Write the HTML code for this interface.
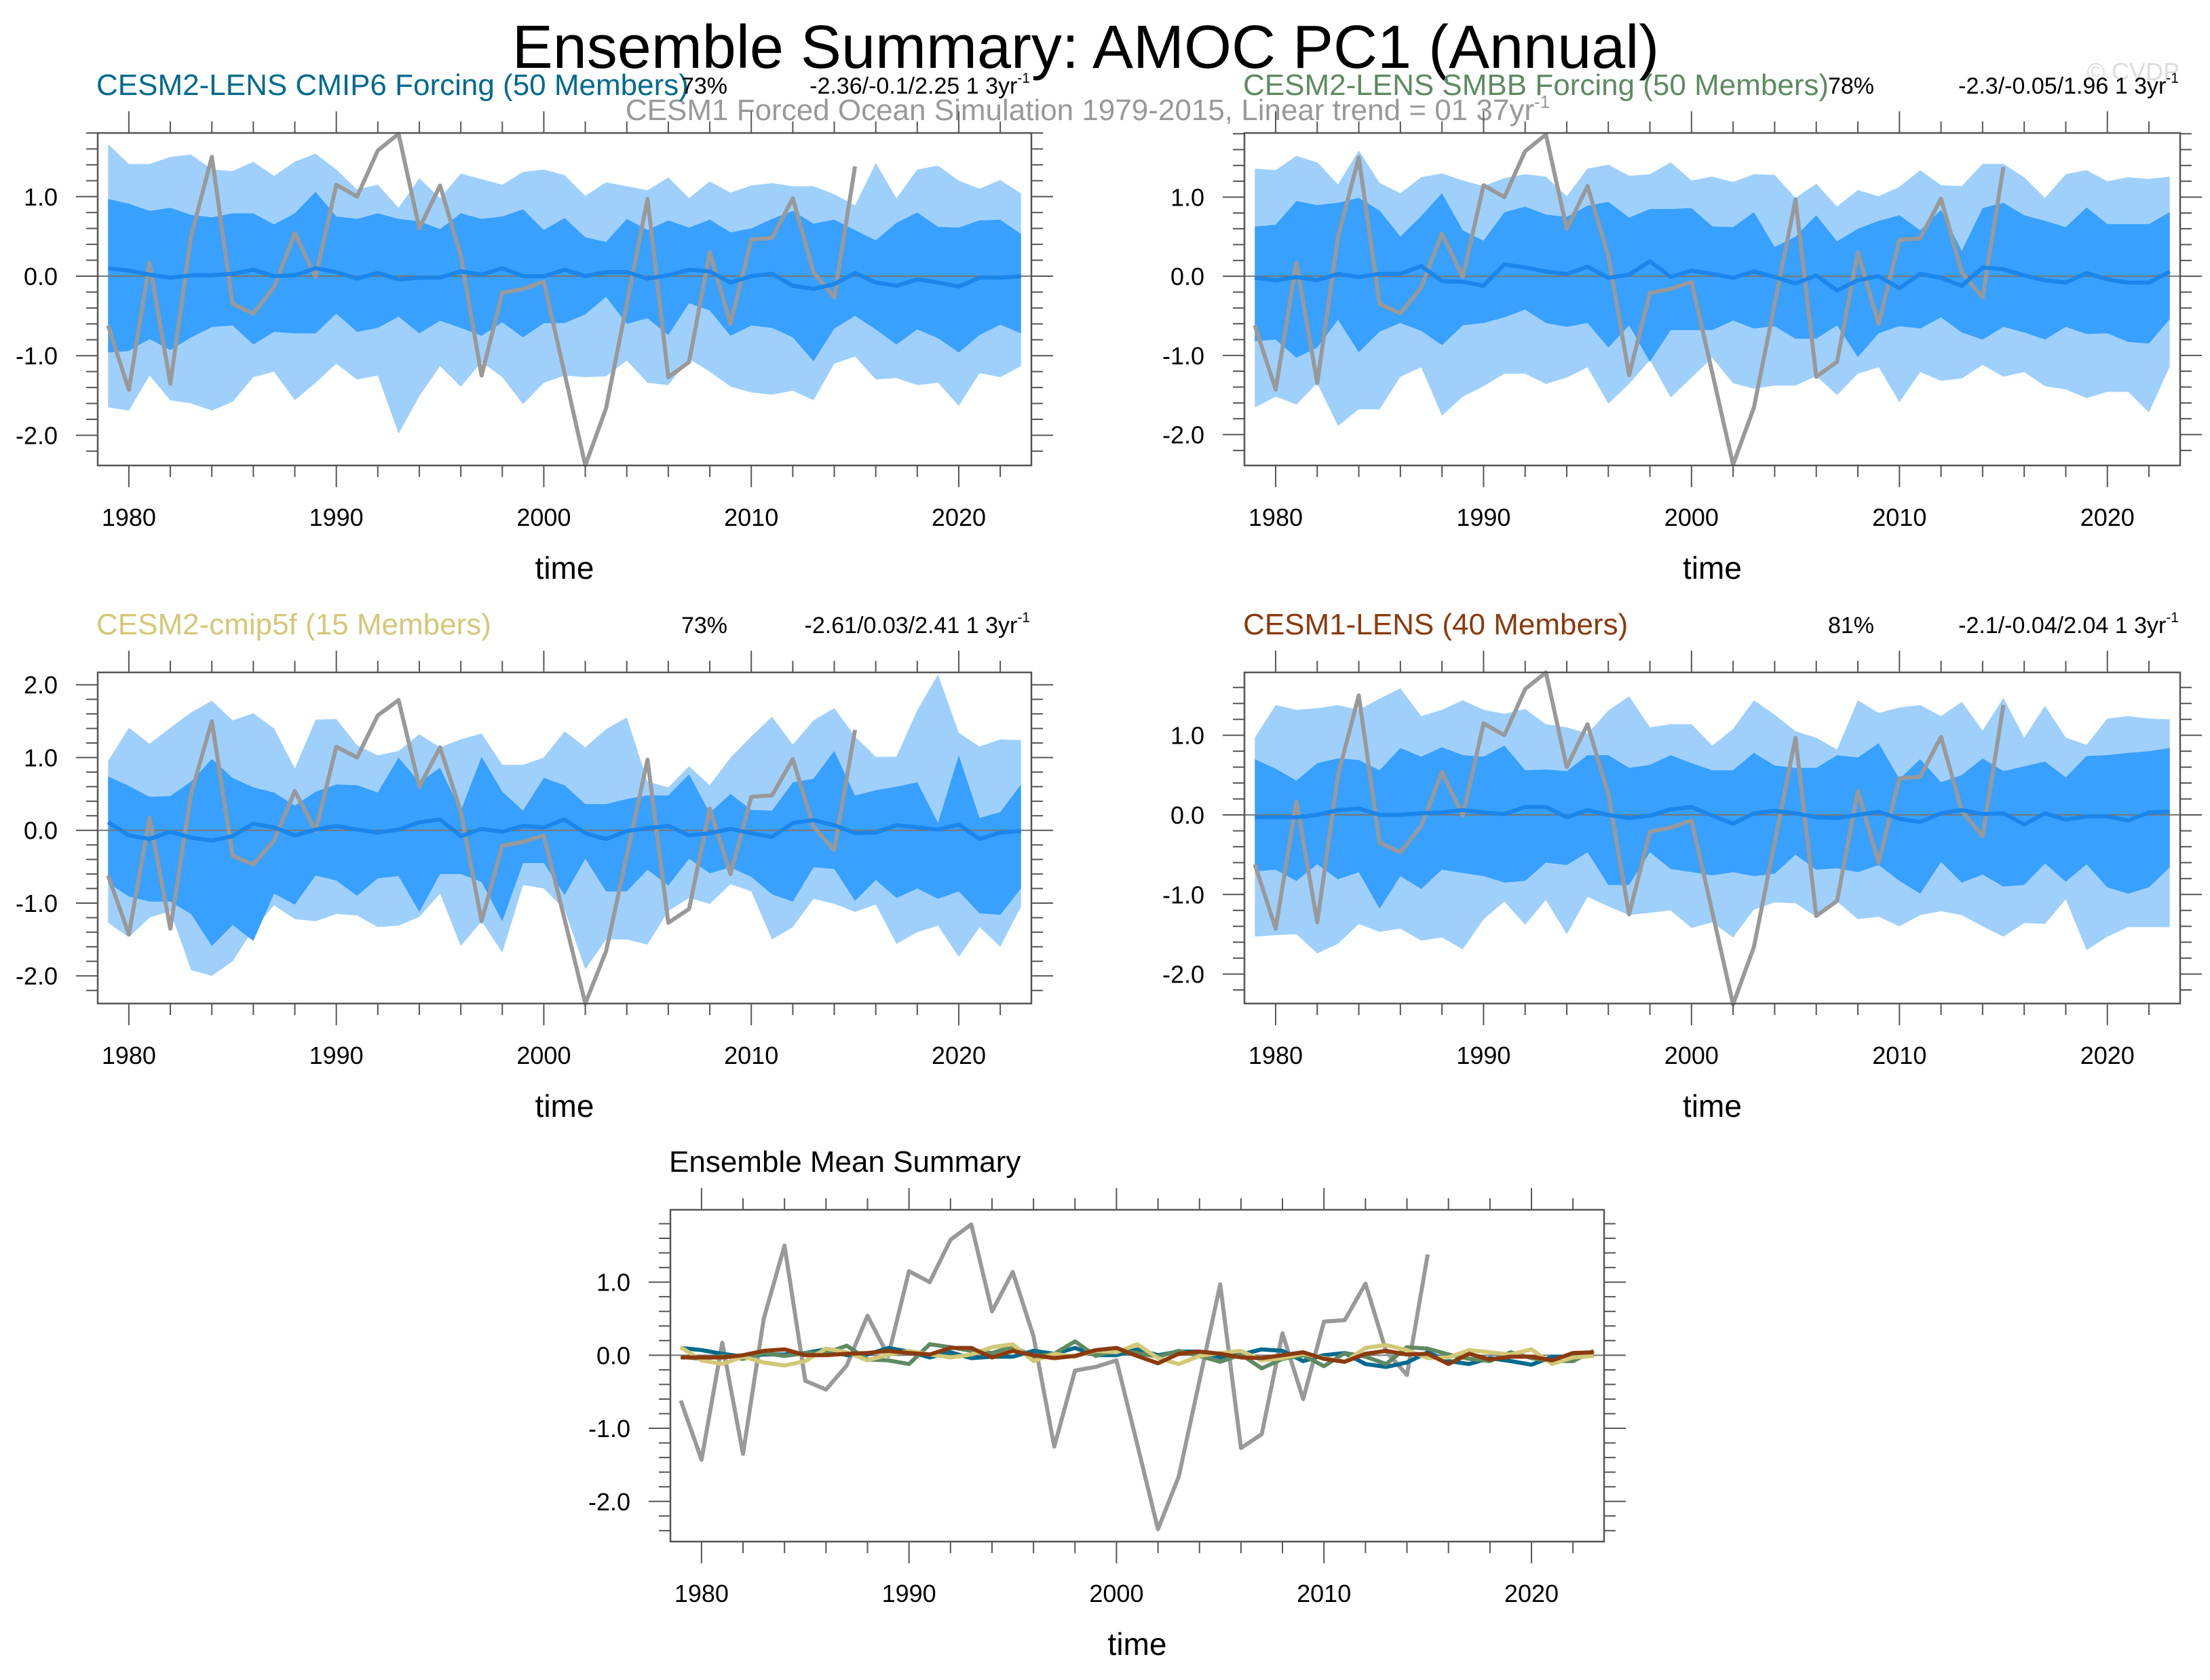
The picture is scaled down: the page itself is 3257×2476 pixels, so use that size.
<!DOCTYPE html>
<html><head><meta charset="utf-8">
<style>
html,body{margin:0;padding:0;background:#fff;}
svg{display:block;font-family:"Liberation Sans",sans-serif;}
</style></head>
<body>
<svg id="chart" width="3257" height="2476" viewBox="0 0 3257 2476" xmlns="http://www.w3.org/2000/svg">
<rect width="3257" height="2476" fill="#fff"/>
<text x="1600" y="100" font-size="90" text-anchor="middle" fill="#000">Ensemble Summary: AMOC PC1 (Annual)</text>
<text x="1603" y="177" font-size="44" text-anchor="middle" fill="#999">CESM1 Forced Ocean Simulation 1979-2015, Linear trend = 01 37yr<tspan dy="-18" font-size="26">-1</tspan></text>
<text x="3212" y="118" font-size="36" text-anchor="end" fill="#ddd">© CVDP</text>
<g id="panels"></g>
</svg>
<script>
const years = [];
for (let y = 1979; y <= 2023; y++) years.push(y);
const obsYears = [];
for (let y = 1979; y <= 2015; y++) obsYears.push(y);
const obsValues = [-0.62,-1.43,0.17,-1.35,0.5,1.5,-0.35,-0.47,-0.14,0.54,-0.01,1.15,1.0,1.58,1.79,0.6,1.14,0.26,-1.25,-0.21,-0.16,-0.07,-1.22,-2.38,-1.66,-0.35,0.97,-1.27,-1.08,0.3,-0.6,0.46,0.48,0.98,0.05,-0.27,1.38];
const xTickValues = [1980,1990,2000,2010,2020];
const xTickLabels = ["1980","1990","2000","2010","2020"];
const yTickValues = [-2,-1,0,1,2];
const yTickLabels = ["-2.0","-1.0","0.0","1.0","2.0"];

// Panel 1: CESM2-LENS CMIP6
const p1Mean = [0.1,0.07,0.02,-0.02,0.01,0.01,0.03,0.08,0.0,0.01,0.1,0.05,-0.03,0.04,-0.04,-0.02,-0.02,0.06,0.02,0.1,0.0,0.0,0.08,0.0,0.05,0.05,-0.03,0.01,0.08,0.06,-0.08,0.0,0.03,-0.12,-0.16,-0.1,0.04,-0.08,-0.12,-0.04,-0.08,-0.13,-0.02,-0.02,0.0];
const p1OuterHi = [1.66,1.41,1.41,1.5,1.53,1.34,1.32,1.44,1.26,1.44,1.54,1.34,1.09,1.15,0.86,1.23,0.98,1.29,1.22,1.15,1.31,1.34,1.27,1.01,1.18,1.13,1.08,1.24,0.98,1.19,1.05,1.14,1.17,1.13,1.13,1.03,0.89,1.42,0.98,1.34,1.39,1.2,1.1,1.21,1.04];
const p1InnerHi = [0.97,0.91,0.82,0.86,0.77,0.74,0.79,0.79,0.65,0.79,1.06,0.75,0.72,0.79,0.72,0.69,0.59,0.79,0.72,0.75,0.84,0.58,0.73,0.49,0.43,0.72,0.58,0.7,0.61,0.71,0.55,0.6,0.72,0.82,0.66,0.71,0.58,0.45,0.67,0.8,0.62,0.61,0.7,0.71,0.53];
const p1InnerLo = [-0.96,-0.94,-0.79,-0.93,-0.77,-0.64,-0.62,-0.86,-0.7,-0.72,-0.72,-0.47,-0.7,-0.65,-0.51,-0.72,-0.56,-0.65,-0.75,-0.58,-0.77,-0.59,-0.59,-0.48,-0.26,-0.6,-0.53,-0.74,-0.34,-0.43,-0.75,-0.62,-0.65,-0.77,-1.07,-0.66,-0.5,-0.67,-0.86,-0.67,-0.78,-0.96,-0.74,-0.61,-0.72];
const p1OuterLo = [-1.65,-1.69,-1.25,-1.56,-1.6,-1.69,-1.58,-1.27,-1.2,-1.56,-1.34,-1.1,-1.3,-1.25,-1.98,-1.51,-1.13,-1.39,-1.08,-1.27,-1.61,-1.34,-1.25,-1.27,-1.26,-1.06,-1.34,-1.37,-1.04,-1.2,-1.39,-1.46,-1.49,-1.44,-1.56,-1.1,-1.01,-1.3,-1.28,-1.37,-1.34,-1.63,-1.22,-1.27,-1.13];

// Panel 2: CESM2-LENS SMBB
const p2Mean = [-0.02,-0.05,-0.01,-0.05,0.03,-0.01,0.03,0.03,0.13,-0.06,-0.07,-0.12,0.15,0.11,0.06,0.03,0.12,-0.02,0.02,0.19,-0.01,0.07,0.03,-0.02,0.06,-0.01,-0.09,0.01,-0.18,-0.05,0.0,-0.15,0.03,-0.02,-0.12,0.11,0.09,0.01,-0.05,-0.08,0.04,-0.04,-0.08,-0.08,0.06];
const p2OuterHi = [1.36,1.34,1.52,1.44,1.16,1.59,1.18,1.05,1.25,1.3,1.21,1.14,1.24,1.29,1.26,1.01,1.36,1.41,1.27,1.29,1.44,1.21,1.26,1.19,1.29,1.28,0.99,1.17,0.88,1.09,1.01,1.13,1.34,1.15,1.14,1.42,1.42,1.25,0.99,1.29,1.34,1.2,1.25,1.23,1.26];
const p2InnerHi = [0.63,0.65,0.95,0.9,0.93,0.99,0.83,0.5,0.76,1.05,0.58,0.45,0.81,0.88,0.78,0.75,0.89,0.94,0.74,0.85,0.85,0.86,0.63,0.62,0.81,0.37,0.5,0.77,0.44,0.6,0.7,0.77,0.58,0.84,0.32,0.86,0.93,0.77,0.7,0.62,0.87,0.66,0.66,0.66,0.81];
const p2InnerLo = [-0.82,-0.8,-1.03,-0.9,-0.55,-0.96,-0.7,-0.59,-0.69,-0.87,-0.62,-0.59,-0.52,-0.42,-0.59,-0.64,-0.59,-0.9,-0.62,-1.08,-0.68,-0.68,-0.68,-0.56,-0.66,-0.63,-0.79,-0.79,-0.62,-1.02,-0.72,-0.63,-0.66,-0.52,-0.71,-0.8,-0.64,-0.71,-0.8,-0.64,-0.73,-0.72,-0.83,-0.85,-0.54];
const p2OuterLo = [-1.66,-1.52,-1.62,-1.35,-1.89,-1.68,-1.68,-1.27,-1.15,-1.76,-1.52,-1.39,-1.23,-1.23,-1.36,-1.28,-1.15,-1.61,-1.36,-1.06,-1.53,-1.28,-1.03,-1.35,-1.42,-1.38,-1.38,-1.26,-1.5,-1.23,-1.15,-1.59,-1.21,-1.32,-1.29,-1.12,-1.27,-1.21,-1.39,-1.43,-1.54,-1.46,-1.46,-1.72,-1.14];

// Panel 3: CESM2-cmip5f
const p3Mean = [0.11,-0.07,-0.12,-0.02,-0.1,-0.14,-0.08,0.09,0.04,-0.07,0.01,0.06,0.01,-0.03,0.01,0.11,0.15,-0.08,0.02,-0.02,0.06,0.04,0.15,-0.04,-0.12,-0.01,0.03,0.06,-0.07,-0.04,0.02,-0.04,-0.09,0.1,0.14,0.07,-0.04,-0.03,0.07,0.04,0.01,0.08,-0.12,-0.03,-0.01];
const p3OuterHi = [0.95,1.41,1.19,1.41,1.62,1.78,1.51,1.61,1.4,0.85,1.52,1.53,1.17,1.03,1.09,1.32,1.14,1.25,1.33,0.9,0.9,1.0,1.36,1.14,1.39,1.55,0.67,0.59,0.88,0.62,1.0,1.29,1.56,1.18,1.51,1.68,1.29,1.01,1.01,1.65,2.14,1.34,1.15,1.25,1.24];
const p3InnerHi = [0.74,0.61,0.46,0.47,0.67,0.98,0.72,0.59,0.52,0.34,0.53,0.63,0.62,0.52,1.0,0.66,0.86,0.27,1.01,0.53,0.27,0.72,0.62,0.36,0.36,0.43,0.48,0.48,0.77,0.24,0.5,0.28,0.27,0.66,0.71,1.09,0.48,0.55,0.6,0.66,0.1,1.03,0.17,0.25,0.63];
const p3InnerLo = [-0.72,-0.91,-0.98,-0.98,-1.15,-1.59,-1.3,-1.52,-0.87,-1.02,-0.62,-0.69,-0.9,-0.66,-0.63,-1.12,-0.6,-0.6,-0.71,-1.25,-0.45,-0.45,-0.89,-0.39,-0.84,-0.84,-0.54,-0.76,-0.39,-0.59,-0.51,-0.64,-0.88,-0.98,-0.51,-0.53,-0.97,-0.68,-0.93,-0.8,-0.94,-0.84,-1.14,-1.16,-0.8];
const p3OuterLo = [-1.27,-1.47,-1.2,-1.11,-1.92,-2.0,-1.8,-1.36,-1.03,-1.22,-1.25,-1.15,-1.17,-1.33,-1.31,-1.19,-0.87,-1.59,-1.25,-1.68,-0.75,-0.8,-1.09,-1.91,-1.5,-1.5,-1.57,-1.11,-0.93,-1.01,-0.74,-0.84,-1.5,-1.33,-0.94,-1.01,-1.12,-1.02,-1.56,-1.4,-1.31,-1.74,-1.33,-1.6,-1.05];

// Panel 4: CESM1-LENS
const p4Mean = [-0.03,-0.03,-0.03,0.0,0.06,0.08,0.0,0.0,0.02,0.03,0.06,0.03,0.01,0.1,0.1,-0.03,0.06,0.0,-0.04,-0.01,0.07,0.1,-0.01,-0.11,0.02,0.05,0.02,-0.03,-0.04,0.0,0.04,-0.05,-0.09,0.02,0.06,0.01,0.02,-0.12,0.02,-0.06,-0.02,-0.02,-0.07,0.03,0.04];
const p4OuterHi = [0.97,1.38,1.32,1.34,1.38,1.32,1.46,1.59,1.24,1.32,1.44,1.32,1.27,1.33,1.14,1.1,1.02,1.31,1.49,1.1,1.14,1.14,0.87,1.08,1.44,1.26,1.05,0.97,0.82,1.44,1.28,1.35,1.38,1.24,1.42,1.06,1.47,0.97,1.37,0.97,0.88,1.21,1.24,1.21,1.2];
const p4InnerHi = [0.7,0.58,0.43,0.65,0.71,0.69,0.56,0.84,0.73,0.85,0.75,0.73,0.87,0.56,0.57,0.55,0.75,0.75,0.59,0.63,0.75,0.65,0.56,0.56,0.78,0.62,0.59,0.59,0.75,0.72,0.9,0.45,0.7,0.41,0.5,0.71,0.55,0.61,0.67,0.47,0.74,0.75,0.78,0.8,0.84];
const p4InnerLo = [-0.71,-0.69,-0.83,-0.62,-0.81,-0.72,-1.18,-0.77,-0.93,-0.69,-0.73,-0.77,-0.85,-0.83,-0.6,-0.63,-0.47,-0.88,-0.88,-0.47,-0.68,-0.72,-0.76,-0.72,-0.77,-0.74,-0.5,-0.69,-0.67,-0.72,-0.63,-0.83,-0.99,-0.59,-0.85,-0.75,-0.9,-0.88,-0.61,-0.84,-0.62,-0.91,-0.99,-0.91,-0.66];
const p4OuterLo = [-1.53,-1.51,-1.5,-1.74,-1.62,-1.37,-1.47,-1.43,-1.58,-1.54,-1.69,-1.31,-1.09,-1.38,-1.07,-1.5,-1.03,-1.15,-1.26,-1.23,-1.2,-1.42,-1.35,-1.54,-1.19,-1.1,-1.11,-1.28,-1.09,-1.31,-1.28,-1.4,-1.26,-1.21,-1.26,-1.4,-1.53,-1.36,-1.37,-1.06,-1.7,-1.53,-1.41,-1.41,-1.41];

const NS = "http://www.w3.org/2000/svg";
const root = document.getElementById("panels");
function mk(tag, attrs, parent) {
  const e = document.createElementNS(NS, tag);
  for (const k in attrs) e.setAttribute(k, attrs[k]);
  (parent || root).appendChild(e);
  return e;
}

function drawAxes(g, box, xs, ys, yMin, yMax, prefix) {
  const tick = "#555";
  for (let yr = 1980; yr <= 2022; yr += 2) {
    const major = yr % 10 === 0;
    const L = major ? 32 : 17;
    const x = xs(yr);
    const t1 = mk("line", {x1:x, x2:x, y1:box.y1, y2:box.y1+L, stroke:tick, "stroke-width":2}, g);
    
    
    const t2 = mk("line", {x1:x, x2:x, y1:box.y0, y2:box.y0-L, stroke:tick, "stroke-width":2}, g);
    
    
  }
  xTickValues.forEach((v, i) => {
    const t = mk("text", {x:xs(v), y:box.y1+89, "font-size":36, "text-anchor":"middle", fill:"#000"}, g);
    
    
    t.textContent = xTickLabels[i];
  });
  const start = Math.ceil(yMin * 5), end = Math.floor(yMax * 5);
  for (let k = start; k <= end; k++) {
    const v = k / 5;
    const major = k % 5 === 0;
    const L = major ? 32 : 17;
    const y = ys(v);
    const t1 = mk("line", {x1:box.x0-L, x2:box.x0, y1:y, y2:y, stroke:tick, "stroke-width":2}, g);
    
    
    const t2 = mk("line", {x1:box.x1, x2:box.x1+L, y1:y, y2:y, stroke:tick, "stroke-width":2}, g);
    
    
  }
  yTickValues.forEach((v, i) => {
    if (v < yMin || v > yMax) return;
    const t = mk("text", {x:box.x0-59, y:ys(v)+13, "font-size":36, "text-anchor":"end", fill:"#000"}, g);
    
    
    t.textContent = yTickLabels[i];
  });
  const xt = mk("text", {x:(box.x0+box.x1)/2, y:box.y1+167, "font-size":46, "text-anchor":"middle", fill:"#000"}, g);
  
  
  xt.textContent = "time";
}

function lineOf(xsArr, vals, xs, ys) {
  return vals.map((v, i) => (i ? "L" : "M") + xs(xsArr[i]).toFixed(1) + "," + ys(v).toFixed(1)).join("");
}
function bandOf(hi, lo, xs, ys) {
  let d = hi.map((v, i) => (i ? "L" : "M") + xs(years[i]).toFixed(1) + "," + ys(v).toFixed(1)).join("");
  for (let i = lo.length - 1; i >= 0; i--) d += "L" + xs(years[i]).toFixed(1) + "," + ys(lo[i]).toFixed(1);
  return d + "Z";
}

function panel(name, box, yMin, yMax, title, titleColor, pct, pctX, stats, data) {
  const g = mk("g", {});
  
  
  const xs = v => box.x0 + (v - 1978.5) / 45 * (box.x1 - box.x0);
  const ys = v => box.y1 - (v - yMin) / (yMax - yMin) * (box.y1 - box.y0);
  const bg = mk("rect", {x:box.x0, y:box.y0, width:box.x1-box.x0, height:box.y1-box.y0, fill:"#fff"}, g);
  
  
  if (data.outerHi) {
    const b1 = mk("path", {d:bandOf(data.outerHi, data.outerLo, xs, ys), fill:"#9fd0fc"}, g);
    
    
    const b2 = mk("path", {d:bandOf(data.innerHi, data.innerLo, xs, ys), fill:"#38a0ff"}, g);
    
    
  }
  const z = mk("line", {x1:box.x0, x2:box.x1, y1:ys(0), y2:ys(0), stroke:"#777", "stroke-width":2}, g);
  
  
  const ob = mk("path", {d:lineOf(obsYears, obsValues, xs, ys), fill:"none", stroke:"#999", "stroke-width":6, "stroke-linejoin":"round"}, g);
  
  
  data.means.forEach(m => {
    const p = mk("path", {d:lineOf(years, m.vals, xs, ys), fill:"none", stroke:m.color, "stroke-width":m.w, "stroke-linejoin":"round"}, g);
    
    
  });
  const fr = mk("rect", {x:box.x0, y:box.y0, width:box.x1-box.x0, height:box.y1-box.y0, fill:"none", stroke:"#555", "stroke-width":2.5}, g);
  
  
  drawAxes(g, box, xs, ys, yMin, yMax, name);
  const tt = mk("text", {x:box.x0-2, y:box.y0-56, "font-size":44, fill:titleColor}, g);
  
  
  tt.textContent = title;
  if (pct) {
    const pt = mk("text", {x:pctX, y:box.y0-58, "font-size":34, "text-anchor":"middle", fill:"#000"}, g);
    
    
    pt.textContent = pct;
    const st = mk("text", {x:box.x1-2, y:box.y0-58, "font-size":34, "text-anchor":"end", fill:"#000"}, g);
    
    
    st.textContent = stats;
    const sp = mk("tspan", {dy:-16, "font-size":21}, st);
    sp.textContent = "-1";
  }
}

panel("panel-cesm2-lens-cmip6", {x0:144,x1:1520,y0:196,y1:686}, -2.38, 1.80,
  "CESM2-LENS CMIP6 Forcing (50 Members)", "#006a8e", "73%", 1038, "-2.36/-0.1/2.25 1 3yr",
  {outerHi:p1OuterHi, innerHi:p1InnerHi, innerLo:p1InnerLo, outerLo:p1OuterLo, means:[{vals:p1Mean, color:"#1a85ea", w:6, name:"ensemble-mean-line"}]});
panel("panel-cesm2-lens-smbb", {x0:1834,x1:3213,y0:196,y1:686}, -2.39, 1.81,
  "CESM2-LENS SMBB Forcing (50 Members)", "#5e8a62", "78%", 2728, "-2.3/-0.05/1.96 1 3yr",
  {outerHi:p2OuterHi, innerHi:p2InnerHi, innerLo:p2InnerLo, outerLo:p2OuterLo, means:[{vals:p2Mean, color:"#1a85ea", w:6, name:"ensemble-mean-line"}]});
panel("panel-cesm2-cmip5f", {x0:144,x1:1520,y0:991,y1:1479}, -2.38, 2.17,
  "CESM2-cmip5f (15 Members)", "#d3c877", "73%", 1038, "-2.61/0.03/2.41 1 3yr",
  {outerHi:p3OuterHi, innerHi:p3InnerHi, innerLo:p3InnerLo, outerLo:p3OuterLo, means:[{vals:p3Mean, color:"#1a85ea", w:6, name:"ensemble-mean-line"}]});
panel("panel-cesm1-lens", {x0:1834,x1:3213,y0:991,y1:1479}, -2.37, 1.79,
  "CESM1-LENS (40 Members)", "#8b3a0e", "81%", 2728, "-2.1/-0.04/2.04 1 3yr",
  {outerHi:p4OuterHi, innerHi:p4InnerHi, innerLo:p4InnerLo, outerLo:p4OuterLo, means:[{vals:p4Mean, color:"#1a85ea", w:6, name:"ensemble-mean-line"}]});
panel("panel-ensemble-mean-summary", {x0:988,x1:2364,y0:1783,y1:2272}, -2.55, 1.99,
  "Ensemble Mean Summary", "#000", null, 0, "",
  {means:[
    {vals:p1Mean, color:"#006a8e", w:6, name:"cesm2-cmip6-mean-line"},
    {vals:p2Mean, color:"#5e8a62", w:6, name:"cesm2-smbb-mean-line"},
    {vals:p3Mean, color:"#d3c877", w:6, name:"cesm2-cmip5f-mean-line"},
    {vals:p4Mean, color:"#8b3a0e", w:6, name:"cesm1-lens-mean-line"}]});
</script>
</body></html>
